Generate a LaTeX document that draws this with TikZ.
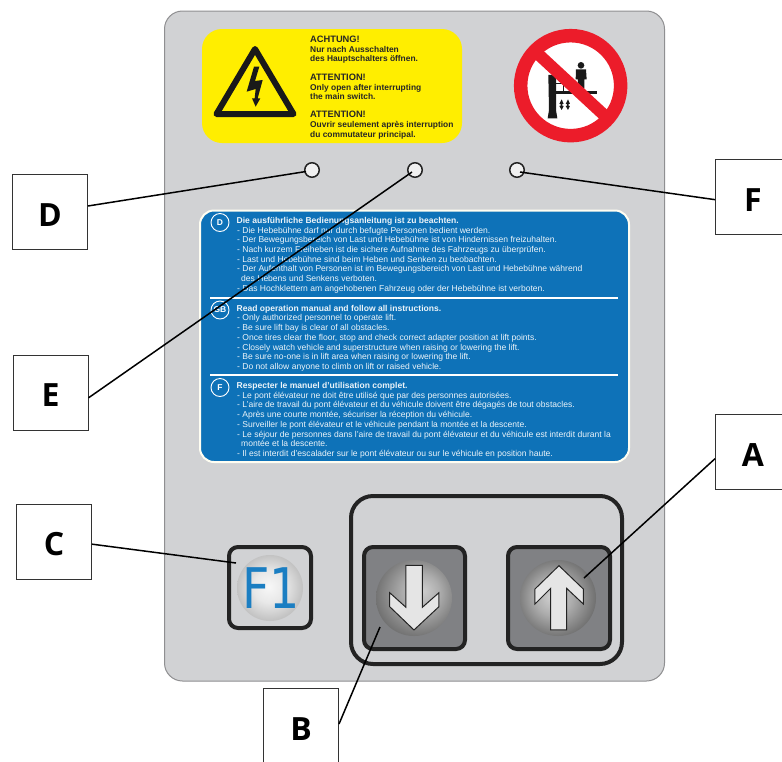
\documentclass[tikz,border=0pt]{standalone}
\usepackage{fontspec}
\setmainfont{Liberation Sans}
\newfontfamily\labelfont{Open Sans}
\newfontfamily\keyfont{DejaVu Sans}
\definecolor{panelgray}{HTML}{D1D2D4}
\definecolor{panelrim}{HTML}{8F8F91}
\definecolor{signyellow}{HTML}{FFEE00}
\definecolor{signblue}{HTML}{0E72B8}
\definecolor{signred}{HTML}{EC1C2A}
\definecolor{keyline}{HTML}{232323}
\definecolor{keydark}{HTML}{808184}
\definecolor{keyblue}{HTML}{1B7EC2}
\pgfdeclareradialshading{ballpress}{\pgfpoint{6bp}{5bp}}{color(0bp)=(black!20); color(12bp)=(black!32); color(30bp)=(black!58); color(50bp)=(black!58)}
\pgfdeclareradialshading{ballrise}{\pgfpoint{-4bp}{1bp}}{color(0bp)=(black!18); color(12bp)=(black!32); color(28bp)=(black!58); color(50bp)=(black!58)}
\pgfdeclareradialshading{ballfunc}{\pgfpoint{-1bp}{1bp}}{color(0bp)=(black!3); color(12bp)=(black!9); color(25bp)=(black!24); color(50bp)=(black!24)}
\tikzset{
  lettbox/.style={draw=black!80,line width=1pt,fill=white,minimum width=75pt,minimum height=75pt,inner sep=0pt,text height=28pt,text depth=0pt,font=\labelfont\bfseries\fontsize{32}{32}\selectfont},
  leader/.style={draw=black,line width=1.5pt},
  hole/.style={circle,draw=keyline,line width=1.5pt,fill=white!94!black,minimum size=14.5pt,inner sep=0pt},
  keybox/.style={draw=keyline,line width=4pt,rounded corners=9pt,inner sep=0pt},
  warntxt/.style={anchor=base west,inner sep=0pt,text=black!85,font=\bfseries\fontsize{8.4}{8.4}\selectfont},
  warnhead/.style={warntxt,font=\bfseries\fontsize{9.3}{9.3}\selectfont},
  bluetxt/.style={anchor=base west,inner sep=0pt,text=white!92!signblue,font=\fontsize{8.54}{8.54}\selectfont},
  bluehead/.style={bluetxt,font=\bfseries\fontsize{8.54}{8.54}\selectfont},
  langmark/.style={circle,draw=white,line width=.9pt,minimum size=18pt,inner sep=0pt,text=white,font=\bfseries\fontsize{8.5}{8.5}\selectfont},
  keyarrow/.style={draw=keyline,line width=1pt,fill=white!90!black,line join=miter},
}
\newcommand\wh[3]{\node[warnhead] (#1) at (310,#2) {#3};}
\newcommand\wl[3]{\node[warntxt] (#1) at (310,#2) {#3};}
\newcommand\bh[3]{\node[bluehead] (#1) at (236.5,#2) {#3};}
\newcommand\bl[3]{\node[bluetxt] (#1) at (237,#2) {#3};}
\newcommand\bc[3]{\node[bluetxt] (#1) at (241,#2) {#3};}
\begin{document}
\begin{tikzpicture}[x=1pt,y=-1pt]
\useasboundingbox (0,0) rectangle (782,761);
\clip (0,0) rectangle (782,761);
\fill[white] (0,0) rectangle (782,761);
% panel
\draw[draw=panelrim,fill=panelgray,line width=1pt,rounded corners=18pt] (164.5,11) rectangle (664.5,681);
% warning label
\fill[signyellow,rounded corners=20pt] (202,29) rectangle (462,143);
\draw[black!90,line width=6pt,line join=round] (255,49) -- (216.5,114) -- (293.5,114) -- cycle;
\begin{scope}[shift={(190,15)},x=.3333pt,y=-.3333pt]
\fill[black!90] (192,155) -- (208,155) -- (195,198) -- (218,195) -- (203,250) -- (211,250) -- (197,275) -- (186,250) -- (194,250) -- (197,222) -- (170,230) -- cycle;
\end{scope}
\wh{w1}{42}{ACHTUNG!}
\wl{w2}{52}{Nur nach Ausschalten}
\wl{w3}{61}{des Hauptschalters öffnen.}
\wh{w4}{80}{ATTENTION!}
\wl{w5}{90}{Only open after interrupting}
\wl{w6}{99}{the main switch.}
\wh{w7}{117}{ATTENTION!}
\wl{w8}{127}{Ouvrir seulement après interruption}
\wl{w9}{137}{du commutateur principal.}
% prohibition sign
\begin{scope}[shift={(500,20)},x=.3333pt,y=-.3333pt]
\fill[white] (212,197) circle[radius=150];
\fill[black!90] (145,165) -- (168,165) -- (168,270) -- (172,295) -- (143,295) -- (147,270) -- cycle;
\fill[black!90] (165,212) rectangle (290,222);
\draw[black!90,line width=1pt] (168,190) -- (190,190) -- (190,212);
\fill[black!90] (243,136) circle[radius=10];
\fill[black!90] (228,148) -- (258,148) -- (260,178) -- (253,178) -- (253,206) -- (234,206) -- (234,178) -- (227,178) -- cycle;
\fill[black!90] (185,238) -- (191,252) -- (187,252) -- (187,258) -- (191,258) -- (185,270) -- (178,258) -- (182,258) -- (182,252) -- (178,252) -- cycle;
\fill[black!90] (204,238) -- (210,252) -- (206,252) -- (206,258) -- (210,258) -- (204,270) -- (197,258) -- (201,258) -- (201,252) -- (197,252) -- cycle;
\draw[signred,line width=12pt] (112,100) -- (312,285);
\draw[signred,line width=13.5pt] (212,197) circle[radius=150];
\end{scope}
% holes
\node[hole] (hD) at (312,170) {};
\node[hole] (hE) at (415,170) {};
\node[hole] (hF) at (517,170) {};
% blue instructions
\draw[draw=white!95!signyellow,fill=signblue,line width=2pt,rounded corners=14pt] (200,210.5) rectangle (629,462);
\draw[white,line width=1.6pt] (210,298) -- (618,298);
\draw[white,line width=1.6pt] (210,375) -- (618,375);
\node[langmark] (mD) at (220,222.5) {D};
\node[langmark] (mG) at (220,310) {GB};
\node[langmark] (mF) at (220,387.5) {F};
\bh{a0}{223}{Die ausführliche Bedienungsanleitung ist zu beachten.}
\bl{a1}{233}{- Die Hebebühne darf nur durch befugte Personen bedient werden.}
\bl{a2}{242.5}{- Der Bewegungsbereich von Last und Hebebühne ist von Hindernissen freizuhalten.}
\bl{a3}{252}{- Nach kurzem Freiheben ist die sichere Aufnahme des Fahrzeugs zu überprüfen.}
\bl{a4}{262}{- Last und Hebebühne sind beim Heben und Senken zu beobachten.}
\bl{a5}{271.5}{- Der Aufenthalt von Personen ist im Bewegungsbereich von Last und Hebebühne während}
\bc{a6}{281}{des Hebens und Senkens verboten.}
\bl{a7}{291}{- Das Hochklettern am angehobenen Fahrzeug oder der Hebebühne ist verboten.}
\bh{b0}{311}{Read operation manual and follow all instructions.}
\bl{b1}{320.5}{- Only authorized personnel to operate lift.}
\bl{b2}{330}{- Be sure lift bay is clear of all obstacles.}
\bl{b3}{340}{- Once tires clear the floor, stop and check correct adapter position at lift points.}
\bl{b4}{350}{- Closely watch vehicle and superstructure when raising or lowering the lift.}
\bl{b5}{359.5}{- Be sure no-one is in lift area when raising or lowering the lift.}
\bl{b6}{369}{- Do not allow anyone to climb on lift or raised vehicle.}
\bh{c0}{388}{Respecter le manuel d'utilisation complet.}
\bl{c1}{398}{- Le pont élévateur ne doit être utilisé que par des personnes autorisées.}
\bl{c2}{407.5}{- L'aire de travail du pont élévateur et du véhicule doivent être dégagés de tout obstacles.}
\bl{c3}{417}{- Après une courte montée, sécuriser la réception du véhicule.}
\bl{c4}{427}{- Surveiller le pont élévateur et le véhicule pendant la montée et la descente.}
\bl{c5}{437}{- Le séjour de personnes dans l'aire de travail du pont élévateur et du véhicule est interdit durant la}
\bc{c6}{446}{montée et la descente.}
\bl{c7}{456}{- Il est interdit d'escalader sur le pont élévateur ou sur le véhicule en position haute.}
% keys
\node[keybox,rounded corners=22pt,minimum width=271pt,minimum height=168pt] (grp) at (486.5,580) {};
\node[keybox,minimum width=82pt,minimum height=81pt] (kF) at (270,587.5) {};
\shade[shading=ballfunc] (270,588) circle[radius=33];
\node[inner sep=0pt,text=keyblue,font=\keyfont\fontsize{56}{56}\selectfont,xscale=.85,transform shape] (tF) at (271,588) {F1};
\node[keybox,fill=keydark,minimum width=101pt,minimum height=102pt] (kD) at (414.5,598) {};
\node[keybox,fill=keydark,minimum width=102pt,minimum height=102pt] (kU) at (559,598) {};
\shade[shading=ballpress] (414,598) circle[radius=38];
\shade[shading=ballrise] (558,598) circle[radius=38];
\begin{scope}[shift={(215,490)},x=.3333pt,y=-.3333pt]
\path[keyarrow] (573,226) -- (622,226) -- (622,352) -- (672,308) -- (672,350) -- (597,420) -- (524,350) -- (524,308) -- (573,352) -- cycle;
\path[keyarrow] (1007,420) -- (1055,420) -- (1055,295) -- (1105,342) -- (1105,297) -- (1032,227) -- (960,297) -- (960,342) -- (1007,295) -- cycle;
\end{scope}
% letter boxes
\node[lettbox] (D) at (50,212) {D};
\node[lettbox] (E) at (50.5,392.5) {E};
\node[lettbox] (C) at (54,541.5) {C};
\node[lettbox] (F) at (753,197) {F};
\node[lettbox] (A) at (753,452) {A};
\node[lettbox] (B) at (301,726) {B};
% leader ends
\coordinate (eD) at (306,171.5);
\coordinate (eE) at (412,172);
\coordinate (eF) at (520,172);
\coordinate (eA) at (584,578);
\coordinate (eB) at (380,627);
\coordinate (eC) at (236,563);
\draw[leader] (D.9) -- (eD);
\draw[leader] (E.-8) -- (eE);
\draw[leader] (F.184) -- (eF);
\draw[leader] (A.190) -- (eA);
\draw[leader] (B.3) -- (eB);
\draw[leader] (C.-4) -- (eC);
\end{tikzpicture}
\end{document}
